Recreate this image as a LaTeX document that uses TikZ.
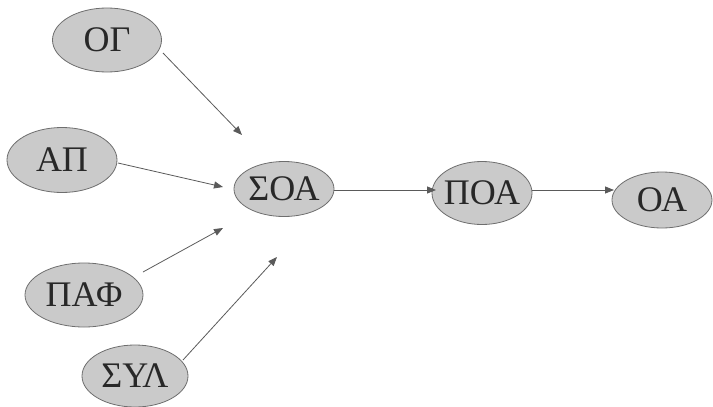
\documentclass[tikz,border=0pt]{standalone}
\usepackage{fontspec}
\setmainfont{Liberation Serif}
\usetikzlibrary{arrows.meta,shapes.geometric}
\definecolor{nodefill}{RGB}{202,202,202}
\definecolor{nodeline}{RGB}{110,110,110}
\definecolor{arrline}{RGB}{90,90,90}
\definecolor{txt}{RGB}{40,40,40}
\newcommand{\zw}[1]{\makebox[0pt]{#1}}
\begin{document}
\begin{tikzpicture}[x=1pt,y=-1pt,
  ell/.style={ellipse, draw=nodeline, line width=0.8pt, fill=nodefill, inner sep=0pt,
    font=\fontsize{36}{38}\selectfont, text=txt},
  conn/.style={draw=arrline, line width=0.8pt, -{Triangle[length=9pt,width=7pt]}},
]
\useasboundingbox (0,0) rectangle (713,407);
\node[ell, minimum width=109pt, minimum height=64pt] (og) at (107,40) {\zw{ΟΓ}};
\node[ell, minimum width=110pt, minimum height=65pt] (ap) at (62,160) {\zw{ΑΠ}};
\node[ell, minimum width=100pt, minimum height=55pt] (soa) at (284,189) {\zw{ΣΟΑ}};
\node[ell, minimum width=118pt, minimum height=64pt] (paf) at (84,295) {\zw{ΠΑΦ}};
\node[ell, minimum width=106pt, minimum height=62pt] (syl) at (135,376) {\zw{ΣΥΛ}};
\node[ell, minimum width=100pt, minimum height=63pt] (poa) at (482,193) {\zw{ΠΟΑ}};
\node[ell, minimum width=100pt, minimum height=56pt] (oa) at (662,200) {\zw{ΟΑ}};
\coordinate (t1) at (242,135);
\coordinate (t2) at (223,187);
\coordinate (t3) at (223,228);
\coordinate (t4) at (277,257);
\coordinate (s1) at (163,53);
\coordinate (s2) at (118,163);
\coordinate (s3) at (143,272);
\coordinate (s4) at (183,360);
\coordinate (t5) at (436,190);
\coordinate (t6) at (614,190);
\coordinate (s5) at (334,190);
\coordinate (s6) at (532,190);
\draw[conn] (s1) -- (t1);
\draw[conn] (s2) -- (t2);
\draw[conn] (s3) -- (t3);
\draw[conn] (s4) -- (t4);
\draw[conn] (s5) -- (t5);
\draw[conn] (s6) -- (t6);
\end{tikzpicture}
\end{document}
